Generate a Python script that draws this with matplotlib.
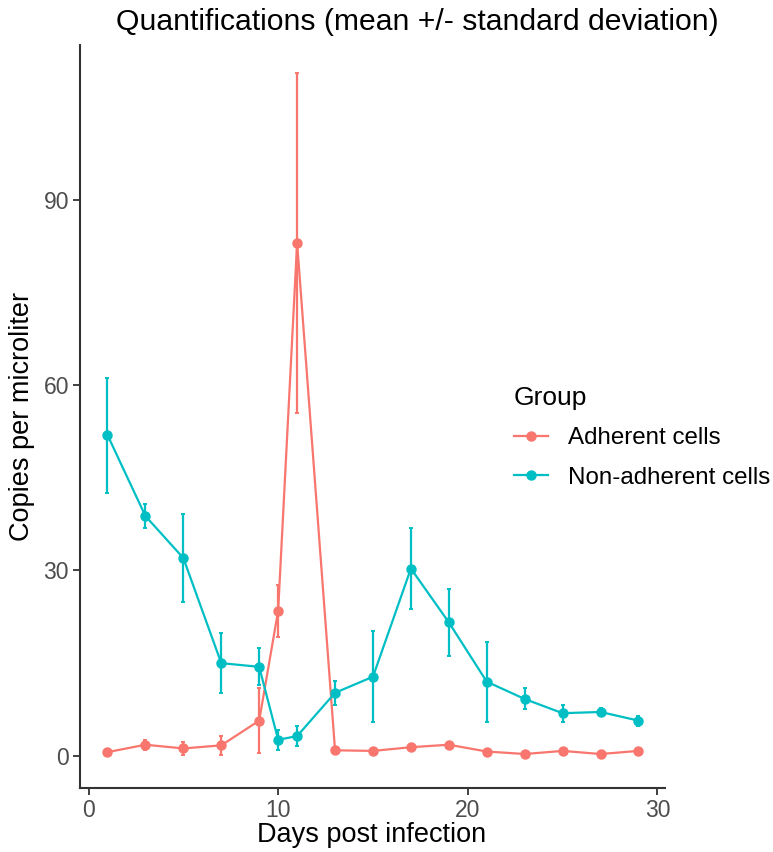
import matplotlib
matplotlib.use("Agg")
import matplotlib.pyplot as plt
from matplotlib.lines import Line2D

plt.rcParams.update({"font.family": ["Liberation Sans", "DejaVu Sans"]})
RED = "#F8766D"; CYAN = "#00BFC4"; AXC = "#333333"; TICKC = "#4D4D4D"

# ---------- data ----------
days = [1, 3, 5, 7, 9, 10, 11, 13, 15, 17, 19, 21, 23, 25, 27, 29]
adherent_mean = [0.6, 1.8, 1.2, 1.7, 5.7, 23.5, 83.0, 0.9, 0.8, 1.4, 1.8, 0.7, 0.3, 0.8, 0.3, 0.8]
adherent_sd   = [0.3, 0.8, 1.1, 1.5, 5.2, 4.2, 27.5, 0.3, 0.3, 0.4, 0.4, 0.3, 0.3, 0.5, 0.3, 0.4]
nonadh_mean = [51.9, 38.8, 32.0, 15.0, 14.4, 2.6, 3.2, 10.2, 12.8, 30.3, 21.6, 12.0, 9.2, 6.9, 7.1, 5.7]
nonadh_sd   = [9.3, 2.0, 7.1, 4.8, 3.0, 1.6, 1.6, 1.9, 7.4, 6.5, 5.4, 6.5, 1.7, 1.4, 0.6, 0.8]
groups = ["Adherent cells", "Non-adherent cells"]
xticks = [0, 10, 20, 30]
yticks = [0, 30, 60, 90]

fig = plt.figure(figsize=(7.73, 8.52), dpi=100)
ax = fig.add_axes([80/773, 1-788/852, (665-80)/773, (788-45)/852])

for mean, sd, col in ((adherent_mean, adherent_sd, RED), (nonadh_mean, nonadh_sd, CYAN)):
    ax.errorbar(days, mean, yerr=sd, fmt="none", ecolor=col, elinewidth=1.6,
                capsize=1.5, capthick=1.4, zorder=2)
    ax.plot(days, mean, color=col, lw=1.6, marker="o", ms=6.5, zorder=3)

ax.set_xlim(-0.45, 30.4); ax.set_ylim(-5.2, 115.0)
ax.set_xticks(xticks); ax.set_yticks(yticks)
for s in ("top", "right"): ax.spines[s].set_visible(False)
for s in ("left", "bottom"):
    ax.spines[s].set_color(AXC); ax.spines[s].set_linewidth(1.5)
ax.tick_params(colors=AXC, labelcolor=TICKC, labelsize=16.5, length=5, width=1.3, pad=3)

fig.text(22/773, 1-416/852, "Copies per microliter", rotation=90, ha="center",
         va="center", fontsize=19.5, color="black")
fig.text(372/773, 1-835/852, "Days post infection", ha="center", va="center",
         fontsize=19.5, color="black")
fig.text(417/773, 1-22/852, "Quantifications (mean +/- standard deviation)",
         ha="center", va="center", fontsize=21.7, color="black")

handles = [Line2D([], [], color=c, lw=1.6, marker="o", ms=6.5) for c in (RED, CYAN)]
leg = fig.legend(handles, groups, title="Group", loc="upper left",
                 bbox_to_anchor=(514/773, 1-386/852), frameon=False, fontsize=17.4,
                 title_fontsize=19, handlelength=1.4, handletextpad=0.85,
                 labelspacing=0.72, borderpad=0, borderaxespad=0, alignment="left")

fig.savefig("out.png", dpi=100)
